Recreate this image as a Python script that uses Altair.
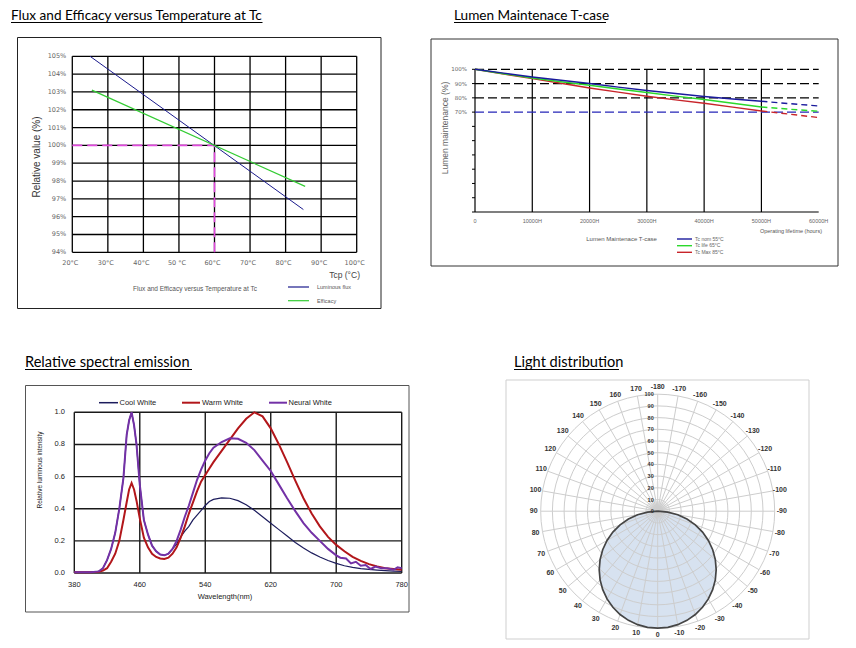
import altair as alt
import pandas as pd

# ---------------- data ----------------
# Panel 1: Flux and Efficacy versus Temperature at Tc
p1_temp_ticks = [20, 30, 40, 50, 60, 70, 80, 90, 100]
p1_temp_labels = ["20°C", "30°C", "40°C", "50 °C", "60°C", "70°C", "80°C", "90°C", "100°C"]
p1_rel_ticks = [94, 95, 96, 97, 98, 99, 100, 101, 102, 103, 104, 105]
p1_rel_labels = ["94%", "95%", "96%", "97%", "98%", "99%", "100%", "101%", "102%", "103%", "104%", "105%"]
flux_temp = [25, 85]
flux_value = [105.0, 96.4]
eff_temp = [25.5, 85.5]
eff_value = [103.1, 97.7]
ref_temp = 60
ref_value = 100

# Panel 2: Lumen maintenance
p2_hour_ticks = [0, 10000, 20000, 30000, 40000, 50000, 60000]
p2_hour_labels = ["0", "10000H", "20000H", "30000H", "40000H", "50000H", "60000H"]
p2_pct_ticks = [0, 10, 20, 30, 40, 50, 60, 70, 80, 90, 100]
p2_pct_label_ticks = [70, 80, 90, 100]
p2_pct_labels = ["70%", "80%", "90%", "100%"]
p2_black_refs = [80, 90, 100]
p2_blue_ref = [70]
p2_hours = [0, 5000, 10000, 15000, 20000, 25000, 30000, 35000, 40000, 45000, 50000, 55000, 60000]
tc_nom55 = [100, 97.3, 94.6, 92.3, 90.0, 87.5, 85.1, 83.0, 80.9, 79.2, 77.6, 75.9, 74.3]
tc_life65 = [100, 96.9, 93.9, 91.3, 88.8, 86.2, 83.7, 81.2, 78.8, 76.2, 73.6, 72.0, 70.6]
tc_max85 = [100, 96.7, 93.5, 90.2, 86.9, 84.0, 81.1, 78.6, 76.2, 73.5, 70.8, 68.5, 66.2]
p2_solid_end = 50000

# Panel 3: Relative spectral emission
p3_wl_ticks = [380, 460, 540, 620, 700, 780]
p3_int_ticks = [0.0, 0.2, 0.4, 0.6, 0.8, 1.0]
p3_int_labels = ["0.0", "0.2", "0.4", "0.6", "0.8", "1.0"]
neural_wl = [380, 390, 400, 410, 415, 420, 425, 430, 435, 440, 444, 447, 450, 453, 456, 460, 465, 470,
             475, 480, 485, 490, 495, 500, 505, 510, 515, 520, 525, 530, 535, 540, 545, 550, 560, 570,
             580, 590, 600, 610, 620, 630, 640, 650, 660, 670, 680, 690, 700, 705, 712, 718, 724, 730,
             736, 742, 748, 755, 762, 770, 775, 780]
neural_int = [0.005, 0.005, 0.005, 0.01, 0.03, 0.08, 0.15, 0.25, 0.40, 0.59, 0.86, 0.95, 1.0, 0.92, 0.80,
              0.55, 0.33, 0.24, 0.17, 0.135, 0.115, 0.11, 0.12, 0.15, 0.20, 0.27, 0.35, 0.42, 0.50, 0.58,
              0.645, 0.70, 0.745, 0.78, 0.815, 0.838, 0.835, 0.81, 0.765, 0.70, 0.635, 0.55, 0.465, 0.385,
              0.31, 0.25, 0.20, 0.15, 0.11, 0.095, 0.09, 0.06, 0.07, 0.045, 0.05, 0.025, 0.04, 0.03, 0.03,
              0.02, 0.035, 0.03]
warm_wl = [380, 400, 410, 415, 420, 425, 430, 435, 440, 444, 447, 450, 453, 456, 460, 465, 470, 475, 480,
           485, 490, 495, 500, 505, 510, 515, 520, 525, 530, 535, 540, 545, 550, 560, 570, 580, 590, 600,
           610, 620, 630, 640, 650, 660, 670, 680, 690, 700, 710, 720, 730, 740, 750, 760, 770, 780]
warm_int = [0.005, 0.005, 0.008, 0.015, 0.03, 0.07, 0.12, 0.20, 0.33, 0.44, 0.52, 0.56, 0.52, 0.45, 0.34,
            0.22, 0.16, 0.12, 0.10, 0.09, 0.087, 0.095, 0.12, 0.16, 0.22, 0.29, 0.37, 0.44, 0.51, 0.57,
            0.61, 0.65, 0.69, 0.76, 0.83, 0.90, 0.96, 1.0, 0.975, 0.90, 0.80, 0.69, 0.575, 0.465, 0.37,
            0.29, 0.225, 0.175, 0.135, 0.10, 0.075, 0.055, 0.04, 0.03, 0.025, 0.02]
cool_wl = [380, 390, 400, 410, 415, 420, 425, 430, 435, 440, 444, 447, 450, 453, 456, 460, 465, 470, 475,
           480, 485, 490, 495, 500, 505, 510, 515, 520, 525, 530, 535, 540, 545, 550, 560, 570, 580, 590,
           600, 610, 620, 630, 640, 650, 660, 670, 680, 690, 700, 710, 720, 730, 740, 750, 760, 770, 780]
cool_int = [0.005, 0.005, 0.005, 0.01, 0.03, 0.08, 0.15, 0.25, 0.40, 0.59, 0.86, 0.95, 1.0, 0.92, 0.80,
            0.55, 0.33, 0.24, 0.17, 0.135, 0.115, 0.11, 0.12, 0.15, 0.18, 0.225, 0.26, 0.29, 0.33, 0.36,
            0.39, 0.42, 0.445, 0.458, 0.467, 0.465, 0.45, 0.425, 0.39, 0.35, 0.31, 0.27, 0.23, 0.19,
            0.155, 0.125, 0.10, 0.078, 0.06, 0.045, 0.035, 0.027, 0.022, 0.018, 0.015, 0.012, 0.01]

# Panel 4: Light distribution (polar)
p4_ring_radii = [10, 20, 30, 40, 50, 60, 70, 80, 90, 100]
p4_ring_labels = ["10", "20", "30", "40", "50", "60", "70", "80", "90", "100"]
p4_spoke_angles = list(range(0, 360, 10))
p4_label_angles = [0, 10, 20, 30, 40, 50, 60, 70, 80, 90, 100, 110, 120, 130, 140, 150, 160, 170,
                   -10, -20, -30, -40, -50, -60, -70, -80, -90, -100, -110, -120, -130, -140, -150,
                   -160, -170, -180]
p4_angle_labels = [str(a) for a in p4_label_angles]
lambert_angle = [0, 5, 10, 15, 20, 25, 30, 35, 40, 45, 50, 55, 60, 65, 70, 75, 80, 85, 90]
lambert_int = [100, 99.6, 98.5, 96.6, 94.0, 90.6, 86.6, 81.9, 76.6, 70.7, 64.3, 57.4, 50.0, 42.3,
               34.2, 25.9, 17.4, 8.7, 0]

# ---------------- helpers ----------------
O = 8
def X(v):
    return v - O
def Y(v):
    return v - O

ONE = pd.DataFrame({"k": [0]})

def dtext(txt, x, y, size, color="#333", align="left", baseline="middle", angle=0,
          font="Liberation Sans", weight="normal"):
    return alt.Chart(ONE).mark_text(text=txt, align=align, baseline=baseline, fontSize=size,
                                    color=color, font=font, angle=angle, fontWeight=weight
                                    ).encode(x=alt.value(X(x)), y=alt.value(Y(y)))

def dline(x1, x2, y, color, width=1.0):
    return alt.Chart(ONE).mark_rule(color=color, strokeWidth=width).encode(
        x=alt.value(X(x1)), x2=alt.value(X(x2)), y=alt.value(Y(y)))

def dbox(x1, x2, y1, y2, color, width=1.0):
    return alt.Chart(ONE).mark_rect(fill="white", fillOpacity=0, stroke=color, strokeWidth=width).encode(
        x=alt.value(X(x1)), x2=alt.value(X(x2)), y=alt.value(Y(y1)), y2=alt.value(Y(y2)))

def title(txt, x, y, x_end, size=13.6):
    return [dtext(txt, x, y, size, color="#000", baseline="alphabetic", font="Lato"),
            dline(x, x_end, y + 2.5, "#000", 1)]

# ---------------- Panel 1 ----------------
xs1 = alt.Scale(domain=[20, 100], range=[X(72.3), X(356.7)], zero=False, nice=False)
ys1 = alt.Scale(domain=[94, 105], range=[Y(252.3), Y(56.3)], zero=False, nice=False)

def ex1(f):
    return alt.X(f, scale=xs1, axis=None)
def ey1(f):
    return alt.Y(f, scale=ys1, axis=None)

p1_vgrid = alt.Chart(pd.DataFrame({"t": p1_temp_ticks, "lo": min(p1_rel_ticks), "hi": max(p1_rel_ticks)})
                     ).mark_rule(color="#000", strokeWidth=1.3).encode(x=ex1("t:Q"), y=ey1("lo:Q"), y2="hi:Q")
p1_hgrid = alt.Chart(pd.DataFrame({"v": p1_rel_ticks, "lo": min(p1_temp_ticks), "hi": max(p1_temp_ticks)})
                     ).mark_rule(color="#000", strokeWidth=1.3).encode(y=ey1("v:Q"), x=ex1("lo:Q"), x2="hi:Q")
p1_ylab = alt.Chart(pd.DataFrame({"v": p1_rel_ticks, "lab": p1_rel_labels, "x": min(p1_temp_ticks)})
                    ).mark_text(align="right", baseline="middle", dx=-6, fontSize=6.5, color="#666",
                                font="DejaVu Sans").encode(x=ex1("x:Q"), y=ey1("v:Q"), text="lab:N")
p1_xlab = alt.Chart(pd.DataFrame({"t": p1_temp_ticks, "lab": p1_temp_labels, "y": min(p1_rel_ticks)})
                    ).mark_text(align="center", baseline="middle", dy=11, dx=-2, fontSize=6.5, color="#666",
                                font="DejaVu Sans").encode(x=ex1("t:Q"), y=ey1("y:Q"), text="lab:N")
p1_ref_h = alt.Chart(pd.DataFrame({"a": [min(p1_temp_ticks)], "b": [ref_temp], "v": [ref_value]})
                     ).mark_rule(color="#e048dc", strokeWidth=1.6, strokeDash=[10, 5]).encode(
    x=ex1("a:Q"), x2="b:Q", y=ey1("v:Q"))
p1_ref_v = alt.Chart(pd.DataFrame({"t": [ref_temp], "a": [min(p1_rel_ticks)], "b": [ref_value]})
                     ).mark_rule(color="#e048dc", strokeWidth=1.6, strokeDash=[10, 5]).encode(
    x=ex1("t:Q"), y=ey1("a:Q"), y2="b:Q")
p1_flux = alt.Chart(pd.DataFrame({"t": flux_temp, "v": flux_value})).mark_line(
    color="#1a1a8c", strokeWidth=1).encode(x=ex1("t:Q"), y=ey1("v:Q"))
p1_eff = alt.Chart(pd.DataFrame({"t": eff_temp, "v": eff_value})).mark_line(
    color="#33cc33", strokeWidth=1.2).encode(x=ex1("t:Q"), y=ey1("v:Q"))

panel1 = alt.layer(
    dbox(17.5, 381, 37.5, 308.5, "#222", 1),
    *title("Flux and Efficacy versus Temperature at Tc", 11, 20, 262.5),
    p1_vgrid, p1_hgrid, p1_ref_h, p1_ref_v, p1_flux, p1_eff, p1_ylab, p1_xlab,
    dtext("Tcp (°C)", 360, 274.5, 8.5, color="#444", align="right"),
    dtext("Relative value (%)", 36.7, 157, 10, color="#333", align="center", angle=270),
    dtext("Flux and Efficacy versus Temperature at Tc", 195, 289, 6.5, color="#555", align="center"),
    dline(288, 309, 287, "#1a1a8c", 1.2),
    dline(288, 309, 300.7, "#33cc33", 1.2),
    dtext("Luminous flux", 317, 286.5, 5.5, color="#555"),
    dtext("Efficacy", 317, 300.5, 5.5, color="#555"),
)

# ---------------- Panel 2 ----------------
xs2 = alt.Scale(domain=[0, 60000], range=[X(475), X(818.7)], zero=False, nice=False)
ys2 = alt.Scale(domain=[0, 100], range=[Y(212), Y(69.3)], zero=False, nice=False)

def ex2(f):
    return alt.X(f, scale=xs2, axis=None)
def ey2(f):
    return alt.Y(f, scale=ys2, axis=None)

p2_vgrid = alt.Chart(pd.DataFrame({"h": p2_hour_ticks[:-1], "lo": 0, "hi": 100})).mark_rule(
    color="#000", strokeWidth=1.2).encode(x=ex2("h:Q"), y=ey2("lo:Q"), y2="hi:Q")
p2_xaxis = alt.Chart(pd.DataFrame({"a": [0], "b": [60000], "v": [0]})).mark_rule(
    color="#000", strokeWidth=1.2).encode(x=ex2("a:Q"), x2="b:Q", y=ey2("v:Q"))
p2_black = alt.Chart(pd.DataFrame({"v": p2_black_refs, "a": 0, "b": 60000})).mark_rule(
    color="#000", strokeWidth=1.2, strokeDash=[9, 4]).encode(x=ex2("a:Q"), x2="b:Q", y=ey2("v:Q"))
p2_blue = alt.Chart(pd.DataFrame({"v": p2_blue_ref, "a": 0, "b": 60000})).mark_rule(
    color="#2626b8", strokeWidth=1.2, strokeDash=[9, 4]).encode(x=ex2("a:Q"), x2="b:Q", y=ey2("v:Q"))
p2_yticks = alt.Chart(pd.DataFrame({"v": p2_pct_ticks})).mark_rule(color="#000", strokeWidth=1).encode(
    y=ey2("v:Q"), x=alt.value(X(472)), x2=alt.value(X(475)))
p2_ylab = alt.Chart(pd.DataFrame({"v": p2_pct_label_ticks, "lab": p2_pct_labels, "x": 0})).mark_text(
    align="right", baseline="middle", dx=-8, fontSize=5.5, color="#666", font="DejaVu Sans").encode(
    x=ex2("x:Q"), y=ey2("v:Q"), text="lab:N")
p2_xlab = alt.Chart(pd.DataFrame({"h": p2_hour_ticks, "lab": p2_hour_labels, "y": 0})).mark_text(
    align="center", baseline="middle", dy=9, fontSize=5.5, color="#666", font="Liberation Sans").encode(
    x=ex2("h:Q"), y=ey2("y:Q"), text="lab:N")

p2_series = []
for vals, col in [(tc_max85, "#c8242a"), (tc_life65, "#2bd92b"), (tc_nom55, "#1a1a9c")]:
    df = pd.DataFrame({"h": p2_hours, "v": vals})
    solid = alt.Chart(df[df.h <= p2_solid_end]).mark_line(color=col, strokeWidth=1.4).encode(
        x=ex2("h:Q"), y=ey2("v:Q"))
    dashed = alt.Chart(df[df.h >= p2_solid_end]).mark_line(color=col, strokeWidth=1.4,
                                                            strokeDash=[6, 4]).encode(x=ex2("h:Q"), y=ey2("v:Q"))
    p2_series += [solid, dashed]

panel2 = alt.layer(
    dbox(431, 838, 39, 266, "#333", 1),
    *title("Lumen Maintenace T-case", 454, 20, 606),
    p2_vgrid, p2_xaxis, p2_black, p2_blue, p2_yticks, *p2_series, p2_ylab, p2_xlab,
    dtext("Operating lifetime (hours)", 822, 231, 5.5, color="#555", align="right"),
    dtext("Lumen maintenance (%)", 445, 128, 8.5, color="#666", align="center", angle=270),
    dtext("Lumen Maintenace T-case", 621.5, 239, 6, color="#555", align="center"),
    dline(677, 692, 239, "#1a1a9c", 1.4),
    dline(677, 692, 245.7, "#2bd92b", 1.4),
    dline(677, 692, 252.3, "#c8242a", 1.4),
    dtext("Tc nom 55°C", 695, 238.5, 5, color="#666"),
    dtext("Tc life 65°C", 695, 245.2, 5, color="#666"),
    dtext("Tc Max 85°C", 695, 251.8, 5, color="#666"),
)

# ---------------- Panel 3 ----------------
xs3 = alt.Scale(domain=[380, 780], range=[X(74.3), X(401.7)], zero=False, nice=False)
ys3 = alt.Scale(domain=[0, 1], range=[Y(573), Y(412.3)], zero=False, nice=False)

def ex3(f):
    return alt.X(f, scale=xs3, axis=None)
def ey3(f):
    return alt.Y(f, scale=ys3, axis=None)

p3_vgrid = alt.Chart(pd.DataFrame({"w": p3_wl_ticks, "lo": 0.0, "hi": 1.0})).mark_rule(
    color="#1a1a1a", strokeWidth=1.4).encode(x=ex3("w:Q"), y=ey3("lo:Q"), y2="hi:Q")
p3_hgrid = alt.Chart(pd.DataFrame({"v": p3_int_ticks, "lo": 380, "hi": 780})).mark_rule(
    color="#1a1a1a", strokeWidth=1.4).encode(y=ey3("v:Q"), x=ex3("lo:Q"), x2="hi:Q")
p3_ylab = alt.Chart(pd.DataFrame({"v": p3_int_ticks, "lab": p3_int_labels, "x": 380})).mark_text(
    align="right", baseline="middle", dx=-9.3, fontSize=7.5, color="#222", font="Liberation Sans").encode(
    x=ex3("x:Q"), y=ey3("v:Q"), text="lab:N")
p3_xlab = alt.Chart(pd.DataFrame({"w": p3_wl_ticks, "lab": [str(w) for w in p3_wl_ticks], "y": 0.0})).mark_text(
    align="center", baseline="middle", dy=11.7, fontSize=7.5, color="#222", font="Liberation Sans").encode(
    x=ex3("w:Q"), y=ey3("y:Q"), text="lab:N")
p3_cool = alt.Chart(pd.DataFrame({"w": cool_wl, "v": cool_int})).mark_line(
    color="#1c1c5c", strokeWidth=1.2).encode(x=ex3("w:Q"), y=ey3("v:Q"))
p3_warm = alt.Chart(pd.DataFrame({"w": warm_wl, "v": warm_int})).mark_line(
    color="#b2161a", strokeWidth=2).encode(x=ex3("w:Q"), y=ey3("v:Q"))
p3_neural = alt.Chart(pd.DataFrame({"w": neural_wl, "v": neural_int})).mark_line(
    color="#7331a6", strokeWidth=2).encode(x=ex3("w:Q"), y=ey3("v:Q"))

panel3 = alt.layer(
    dbox(25.5, 409, 385.5, 612, "#555", 1),
    *title("Relative spectral emission", 25, 367, 192, size=14.6),
    p3_vgrid, p3_hgrid, p3_cool, p3_warm, p3_neural, p3_ylab, p3_xlab,
    dtext("Wavelength(nm)", 225, 596.7, 7.5, color="#222", align="center"),
    dtext("Relative luminous intensity", 40, 470, 6.5, color="#222", align="center", angle=270),
    dline(99, 118, 402.7, "#1c1c5c", 1.5),
    dline(182, 200, 402.7, "#b2161a", 2),
    dline(269, 287, 402.7, "#7331a6", 2),
    dtext("Cool White", 119.5, 402.7, 7.5, color="#222"),
    dtext("Warm White", 202, 402.7, 7.5, color="#222"),
    dtext("Neural White", 288.5, 402.7, 7.5, color="#222"),
)

# ---------------- Panel 4 ----------------
xs4 = alt.Scale(domain=[-100, 100], range=[X(540.7), X(774.7)], zero=False, nice=False)
ys4 = alt.Scale(domain=[-100, 100], range=[Y(628.2), Y(394.2)], zero=False, nice=False)

def ex4(f):
    return alt.X(f, scale=xs4, axis=None)
def ey4(f):
    return alt.Y(f, scale=ys4, axis=None)

ring_angles = list(range(0, 361, 5))
ring_df = pd.DataFrame([(r, a) for r in p4_ring_radii for a in ring_angles], columns=["r", "a"])
p4_rings = alt.Chart(ring_df).transform_calculate(
    cx="-datum.r*sin(datum.a*PI/180)", cy="-datum.r*cos(datum.a*PI/180)"
).mark_line(color="#cdcdcd", strokeWidth=1).encode(
    x=ex4("cx:Q"), y=ey4("cy:Q"), detail="r:N", order="a:Q")

spoke_df = pd.DataFrame({"a": p4_spoke_angles, "r": max(p4_ring_radii)})
p4_spokes = alt.Chart(spoke_df).transform_calculate(
    x0="0", y0="0",
    x1="-datum.r*sin(datum.a*PI/180)", y1="-datum.r*cos(datum.a*PI/180)"
).mark_rule(color="#cdcdcd", strokeWidth=1).encode(
    x=ex4("x0:Q"), y=ey4("y0:Q"), x2="x1:Q", y2="y1:Q")

lam_df = pd.DataFrame({"a": lambert_angle, "r": lambert_int})
p4_fill = alt.Chart(lam_df).transform_calculate(
    yy="-datum.r*cos(datum.a*PI/180)",
    xl="-datum.r*sin(datum.a*PI/180)", xr="datum.r*sin(datum.a*PI/180)"
).mark_area(orient="horizontal", color="#d3dfee", opacity=0.9).encode(
    y=ey4("yy:Q"), x=ex4("xl:Q"), x2="xr:Q")

full_angle = [-a for a in reversed(lambert_angle[1:])] + lambert_angle
full_int = list(reversed(lambert_int[1:])) + lambert_int
out_df = pd.DataFrame({"a": full_angle, "r": full_int})
p4_outline = alt.Chart(out_df).transform_calculate(
    cx="-datum.r*sin(datum.a*PI/180)", cy="-datum.r*cos(datum.a*PI/180)"
).mark_line(color="#454545", strokeWidth=1.7, interpolate="linear").encode(
    x=ex4("cx:Q"), y=ey4("cy:Q"), order="a:Q")

p4_blob = alt.Chart(pd.DataFrame({"x": [0], "y": [0]})).mark_circle(
    size=460, opacity=1,
    fill=alt.Gradient(gradient="radial", stops=[alt.GradientStop(offset=0, color="#b5b5b5"),
                                                alt.GradientStop(offset=1, color="#f0f0f0")])
).encode(x=ex4("x:Q"), y=ey4("y:Q"))

lab_df = pd.DataFrame({"a": p4_label_angles, "lab": p4_angle_labels, "r": 106})
p4_anglab = alt.Chart(lab_df).transform_calculate(
    cx="-datum.r*sin(datum.a*PI/180)", cy="-datum.r*cos(datum.a*PI/180)"
).mark_text(align="center", baseline="middle", fontSize=7, fontWeight="bold", color="#333",
            font="Liberation Sans").encode(x=ex4("cx:Q"), y=ey4("cy:Q"), text="lab:N")

ringlab_df = pd.DataFrame({"r": [0] + p4_ring_radii, "lab": ["0"] + p4_ring_labels, "x": 0})
p4_ringlab = alt.Chart(ringlab_df).mark_text(
    align="right", baseline="middle", dx=-4, fontSize=5.5, fontWeight="bold", color="#333",
    font="Liberation Sans").encode(x=ex4("x:Q"), y=ey4("r:Q"), text="lab:N")

panel4 = alt.layer(
    dbox(506, 809, 380, 639, "#cfcfcf", 1),
    *title("Light distribution", 514, 367, 619, size=14.6),
    p4_blob, p4_fill, p4_rings, p4_spokes, p4_outline, p4_anglab, p4_ringlab,
)

chart = alt.layer(panel1, panel2, panel3, panel4).resolve_scale(
    x="independent", y="independent"
).properties(
    width=840, height=632, padding=0, autosize=alt.AutoSizeParams(type="none")
).configure_view(stroke=None)

chart.save("out.html", embed_options={"renderer": "svg", "actions": False})
